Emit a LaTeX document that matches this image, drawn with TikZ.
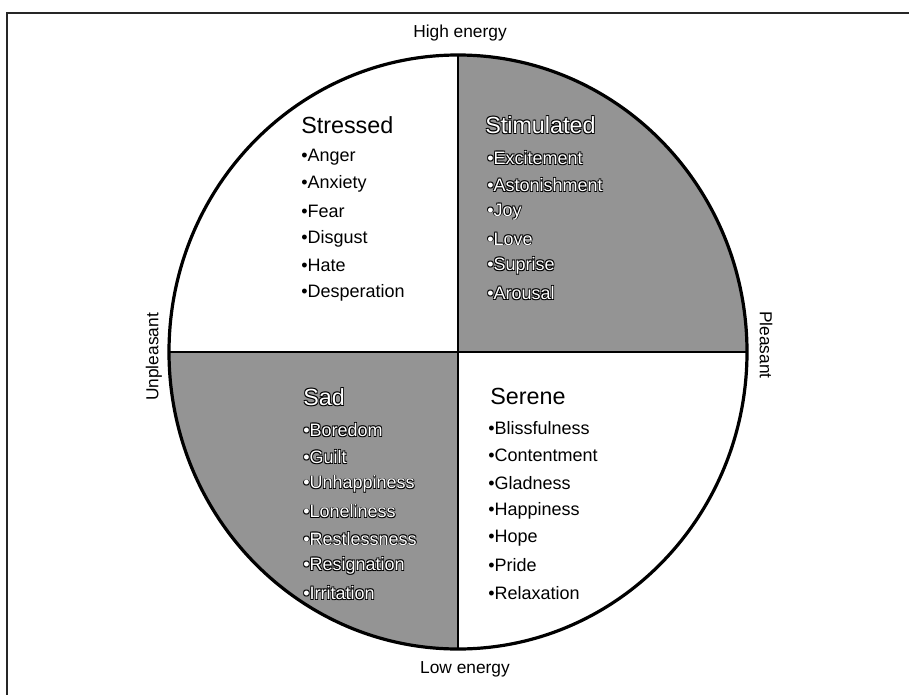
\documentclass[tikz,border=0pt]{standalone}
\usepackage{fontspec}
\setmainfont{Liberation Sans}
\newcommand{\otext}[1]{%
 \makebox[0pt][l]{\kern0.55pt\raisebox{-0.55pt}{\textcolor{black}{#1}}}%
 \makebox[0pt][l]{\kern-0.45pt\raisebox{0.45pt}{\textcolor{black}{#1}}}%
 \makebox[0pt][l]{\kern0.55pt\raisebox{0.45pt}{\textcolor{black}{#1}}}%
 \makebox[0pt][l]{\kern-0.45pt\raisebox{-0.55pt}{\textcolor{black}{#1}}}%
 \textcolor{white}{#1}}
\tikzset{
  head/.style={anchor=west, inner sep=0pt, font=\fontsize{17.5}{20}\selectfont},
  item/.style={anchor=west, inner sep=0pt, font=\fontsize{13.5}{16}\selectfont},
  axislbl/.style={inner sep=0pt, font=\fontsize{13}{15}\selectfont},
  shade/.style={fill=black!42},
}
\begin{document}
\begin{tikzpicture}[x=0.75pt, y=-0.75pt]
\useasboundingbox (0,0) rectangle (909,695);
\fill[white] (0,0) rectangle (909,695);
% frame
\coordinate (fTR) at (909,13);
\coordinate (fTL) at (7,13);
\coordinate (fBL) at (7,695);
\draw[line width=1pt, black!85] (fTR) -- (fTL) -- (fBL);
% circle geometry
\coordinate (C) at (458,352);
\coordinate (T) at (458,55);
\coordinate (B) at (458,649);
\coordinate (L) at (169,352);
\coordinate (R) at (747,352);
\begin{scope}
  \clip (C) ellipse [x radius=216.75pt, y radius=222.75pt];
  \fill[shade] (458,0) rectangle (800,352);
  \fill[shade] (100,352) rectangle (458,700);
\end{scope}
\draw[line width=1.4pt] (T) -- (B);
\draw[line width=1.4pt] (L) -- (R);
\draw[line width=2.4pt] (C) ellipse [x radius=216.75pt, y radius=222.75pt];
% axis labels
\node[axislbl] (hi) at (460,33) {High energy};
\node[axislbl] (lo) at (465,669) {Low energy};
\node[axislbl, rotate=90] (unp) at (154,357) {Unpleasant};
\node[axislbl, rotate=-90] (ple) at (766,345) {Pleasant};
% headings
\node[head] (hStressed) at (301,125) {Stressed};
\node[head] (hStim) at (485,125) {\otext{Stimulated}};
\node[head] (hSad) at (303,397) {\otext{Sad}};
\node[head] (hSerene) at (490,396) {Serene};
% lists
\foreach \t [count=\i] in {Anger,Anxiety,Fear,Disgust,Hate,Desperation}
  \node[item] (str\i) at (301,{157+27.2*(\i-1)}) {•\t};
\foreach \t [count=\i] in {Excitement,Astonishment,Joy,Love,Suprise,Arousal}
  \node[item] (stm\i) at (487,{158+27*(\i-1)}) {\otext{•\t}};
\foreach \t [count=\i] in {Boredom,Guilt,Unhappiness,Loneliness,Restlessness,Resignation,Irritation}
  \node[item] (sad\i) at (303,{430+27.2*(\i-1)}) {\otext{•\t}};
\foreach \t [count=\i] in {Blissfulness,Contentment,Gladness,Happiness,Hope,Pride,Relaxation}
  \node[item] (ser\i) at (488,{428+27.5*(\i-1)}) {•\t};
\end{tikzpicture}
\end{document}
